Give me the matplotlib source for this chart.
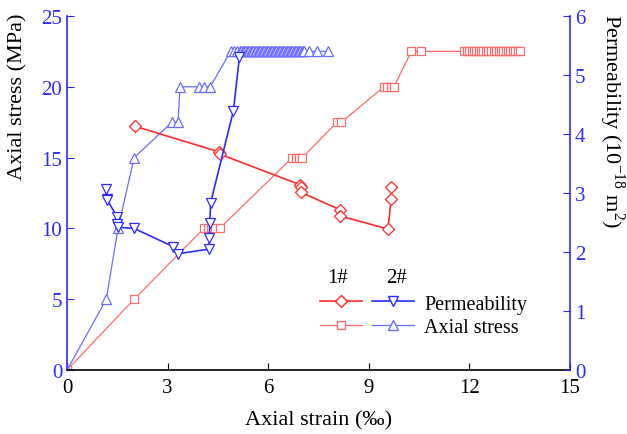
import matplotlib
matplotlib.use('Agg')
import matplotlib.pyplot as plt
from matplotlib.lines import Line2D

plt.rcParams['font.family'] = ['Liberation Serif', 'DejaVu Serif']
plt.rcParams['mathtext.fontset'] = 'custom'
plt.rcParams['mathtext.rm'] = 'Liberation Serif'

# 1# specimen: axial stress (MPa) vs axial strain (permil)
strain_1_stress = [0, 2.0, 4.08, 4.2, 4.3, 4.42, 4.55, 6.72, 6.82, 6.92, 7.02,
                   8.05, 8.18, 9.45, 9.55, 9.65, 9.75, 10.27, 10.57,
                   11.85, 11.92, 12.0, 12.07, 12.14, 12.2, 12.28, 12.35, 12.42, 12.5,
                   12.57, 12.64, 12.72, 12.8, 12.87, 12.94, 13.0, 13.08, 13.15, 13.22,
                   13.3, 13.37, 13.44, 13.5]
stress_1 = [0, 5, 10, 10, 10, 10, 10, 15, 15, 15, 15,
            17.5, 17.5, 20, 20, 20, 20, 22.5, 22.5,
            22.5, 22.5, 22.5, 22.5, 22.5, 22.5, 22.5, 22.5, 22.5, 22.5,
            22.5, 22.5, 22.5, 22.5, 22.5, 22.5, 22.5, 22.5, 22.5, 22.5,
            22.5, 22.5, 22.5, 22.5]

# 1# specimen: permeability (1e-18 m2)
strain_1_perm = [2.03, 4.52, 4.55, 6.95, 6.97, 6.98, 8.13, 8.15, 9.57, 9.67, 9.67]
perm_1 = [4.13, 3.70, 3.66, 3.14, 3.10, 3.01, 2.72, 2.61, 2.39, 2.90, 3.11]

# 2# specimen: axial stress
strain_2_stress = [0, 1.17, 1.52, 2.0, 3.13, 3.31, 3.37, 3.93, 4.09, 4.27,
                   4.88, 4.99, 5.08, 5.16,
                   5.20, 5.24, 5.28, 5.32, 5.36, 5.40, 5.44, 5.48, 5.52, 5.56,
                   5.60, 5.64, 5.68, 5.72, 5.76, 5.80, 5.84, 5.88, 5.92, 5.96,
                   6.00, 6.04, 6.08, 6.12, 6.16, 6.20, 6.24, 6.28, 6.32, 6.36,
                   6.40, 6.44, 6.48, 6.52, 6.56, 6.60, 6.64, 6.68, 6.72, 6.76,
                   6.80, 6.84, 6.88, 6.92, 6.96, 7.00, 7.04, 7.08,
                   7.22, 7.46, 7.77]
stress_2 = [0, 5, 10, 15, 17.5, 17.5, 20, 20, 20, 20] + [22.5] * 55

# 2# specimen: permeability
strain_2_perm = [1.17, 1.18, 1.20, 1.50, 1.50, 1.52, 2.0, 3.17, 3.30,
                 4.24, 4.24, 4.26, 4.28, 4.96, 5.14]
perm_2 = [3.06, 2.90, 2.88, 2.59, 2.47, 2.42, 2.40, 2.09, 1.97,
          2.05, 2.23, 2.50, 2.83, 4.39, 5.30]

red = '#ff2a2a'
red_l = '#ff6b6b'
blue = '#2a2aff'
blue_l = '#6b6bff'

fig, ax = plt.subplots(figsize=(6.27, 4.35), dpi=100)
fig.subplots_adjust(left=0.107, right=0.909, bottom=0.147, top=0.961)
ax2 = ax.twinx()

ax.plot(strain_1_stress, stress_1, color=red_l, lw=0.9, marker='s', ms=6,
        mfc='white', mec=red_l, mew=0.9)
ax.plot(strain_2_stress, stress_2, color=blue_l, lw=0.9, marker='^', ms=7,
        mfc='white', mec=blue_l, mew=0.9)
ax2.plot(strain_1_perm, perm_1, color=red, lw=1.2, marker='D', ms=6,
         mfc='white', mec=red, mew=0.9)
ax2.plot(strain_2_perm, perm_2, color=blue, lw=1.2, marker='v', ms=7,
         mfc='white', mec=blue, mew=0.9)

ax.set_xlim(0, 15)
ax.set_ylim(0, 25)
ax2.set_ylim(0, 6)
ax.set_xticks([0, 3, 6, 9, 12, 15])
ax.set_yticks([0, 5, 10, 15, 20, 25])
ax2.set_yticks([0, 1, 2, 3, 4, 5, 6])

ax.spines['top'].set_visible(False)
ax.spines['right'].set_visible(False)
ax.spines['left'].set_color(blue)
ax2.spines['top'].set_visible(False)
ax2.spines['left'].set_visible(False)
ax2.spines['bottom'].set_visible(False)
ax2.spines['right'].set_color(blue)
for s in ['left', 'bottom']:
    ax.spines[s].set_linewidth(1.2)
ax2.spines['right'].set_linewidth(1.2)

ax.tick_params(axis='x', direction='in', length=5, labelsize=15, pad=6)
ax.tick_params(axis='y', direction='in', length=5, labelsize=15, colors=blue)
ax2.tick_params(axis='y', direction='in', length=5, labelsize=15, colors=blue)

ax.set_xlabel('Axial strain (‰)', fontsize=16, labelpad=9)
ax.set_ylabel('Axial stress (MPa)', fontsize=16, ha='center', va='center')
ax.yaxis.set_label_coords(-0.098, 0.775)
ax2.set_ylabel('Permeability (10$^{-18}$ m$^{2}$)', fontsize=16, rotation=270,
               ha='center', va='center')
ax2.yaxis.set_label_coords(1.083, 0.705)

handles = [
    Line2D([], [], color=red, lw=1.2, marker='D', ms=6, mfc='white', mec=red),
    Line2D([], [], color=red_l, lw=0.9, marker='s', ms=6, mfc='white', mec=red_l),
    Line2D([], [], color=blue, lw=1.2, marker='v', ms=7, mfc='white', mec=blue),
    Line2D([], [], color=blue_l, lw=0.9, marker='^', ms=7, mfc='white', mec=blue_l),
]
labels = ['', '', 'Permeability', 'Axial stress']
leg = ax2.legend(handles, labels, ncol=2, loc='upper left',
                 bbox_to_anchor=(0.482, 0.242), frameon=False, fontsize=14.5,
                 handlelength=2.1, handletextpad=0.5, columnspacing=0.0,
                 labelspacing=0.2, borderpad=0)
ax2.text(0.538, 0.26, '1#', transform=ax2.transAxes, fontsize=15, ha='center', va='center')
ax2.text(0.655, 0.26, '2#', transform=ax2.transAxes, fontsize=15, ha='center', va='center')

fig.savefig('out.png', dpi=100)
